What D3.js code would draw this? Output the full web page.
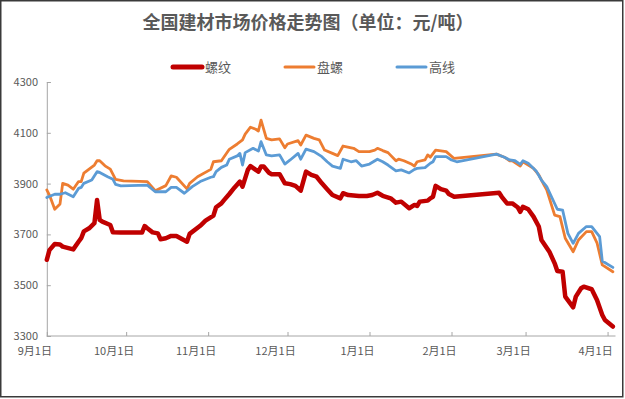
<!DOCTYPE html>
<html lang="zh">
<head>
<meta charset="UTF-8">
<title>全国建材市场价格走势图</title>
<style>
    body { margin: 0; background: #fff; }
    text { font-family: "Noto Sans CJK SC", "Noto Sans", sans-serif; }
</style>
</head>
<body>
<div id="chart"></div>
<script src="https://cdn.jsdelivr.net/npm/d3@7/dist/d3.min.js"></script>
<script>
    // series names, in legend order
    var seriesNames = ["螺纹", "盘螺", "高线"];

    // 螺纹
    var rebarDates = ["9/1","9/2","9/4","9/6","9/7","9/11","9/13","9/14","9/15","9/17","9/19","9/20","9/21","9/22","9/25","9/26","9/29",
        "10/7","10/8","10/9","10/11","10/13","10/14","10/16","10/18","10/20","10/24","10/25","10/29","10/31",
        "11/3","11/4","11/6","11/7","11/9","11/11","11/13","11/14","11/16","11/17","11/19","11/20","11/21","11/22","11/24","11/25","11/28","11/30",
        "12/2","12/4","12/6","12/8","12/10","12/12","12/14","12/16","12/18","12/21","12/22","12/24","12/28","12/31",
        "1/2","1/4","1/6","1/9","1/11","1/13","1/16","1/18","1/19","1/20","1/23","1/24","1/25","1/26","1/28","1/30","1/31",
        "2/2","2/19","2/20","2/22","2/24","2/26","2/27","2/28",
        "3/2","3/4","3/6","3/7","3/10","3/12","3/13","3/15","3/16","3/19","3/20","3/22","3/23","3/26","3/28","3/30","3/31","4/3"];
    var rebarValues = [3600,3638,3662,3660,3652,3641,3671,3685,3712,3724,3744,3835,3757,3750,3737,3708,3707,
        3707,3733,3724,3708,3704,3681,3685,3694,3694,3671,3702,3734,3754,
        3774,3807,3822,3835,3859,3885,3908,3888,3954,3969,3954,3947,3967,3967,3943,3937,3937,3901,
        3898,3891,3872,3947,3934,3927,3901,3878,3855,3842,3862,3855,3851,3851,
        3855,3864,3852,3842,3825,3829,3803,3816,3812,3829,3833,3842,3848,3891,3878,3872,3859,
        3848,3864,3848,3822,3822,3807,3789,3809,
        3799,3770,3731,3678,3632,3586,3556,3553,3455,3413,3455,3488,3494,3484,3442,3383,3363,3337];

    // 盘螺
    var coilDates = ["9/1","9/2","9/4","9/6","9/7","9/9","9/11","9/13","9/14","9/15","9/17","9/19","9/20","9/21","9/23","9/25","9/27","9/30",
        "10/9","10/12","10/16","10/18","10/20","10/24","10/25","10/28",
        "11/2","11/3","11/6","11/9","11/12","11/14","11/15","11/17","11/19","11/20","11/21","11/23","11/25","11/28","11/30",
        "12/1","12/5","12/6","12/8","12/11","12/13","12/15","12/18","12/20","12/22","12/26","12/28",
        "1/1","1/3","1/4","1/6","1/8","1/11","1/12","1/14","1/17","1/18","1/19","1/22","1/23","1/24","1/26","1/30",
        "2/2","2/18","2/21","2/23","2/24","2/27","2/28",
        "3/2","3/4","3/6","3/8","3/9","3/12","3/14","3/16","3/19","3/21","3/24","3/26","3/28","3/30","4/3"];
    var coilValues = [3875,3855,3799,3820,3901,3894,3878,3908,3908,3941,3957,3973,3990,3990,3970,3957,3917,3911,
        3908,3872,3892,3930,3925,3879,3901,3927,
        3956,3986,3990,4035,4056,4072,4095,4122,4114,4107,4150,4078,4072,4076,4041,
        4056,4069,4052,4091,4078,4072,4032,4019,4010,4048,4039,4026,
        4026,4032,4039,4030,4022,3990,3996,3990,3976,3969,3986,3993,4013,4004,4032,4026,
        3999,4016,4004,3990,3990,3969,3986,
        3973,3960,3934,3894,3875,3776,3770,3685,3632,3678,3711,3711,3667,3580,3553];

    // 高线
    var wireDates = ["9/1","9/4","9/6","9/8","9/11","9/13","9/14","9/15","9/18","9/20","9/21","9/24","9/26","9/27","9/29",
        "10/9","10/12","10/16","10/18","10/20","10/23","10/26","10/29",
        "11/2","11/3","11/4","11/6","11/8","11/9","11/12","11/13","11/14","11/15","11/18","11/20","11/21","11/23","11/25","11/28","11/30",
        "12/2","12/5","12/6","12/8","12/11","12/14","12/16","12/18","12/21","12/22","12/25","12/27","12/29",
        "1/1","1/4","1/6","1/8","1/11","1/13","1/16","1/18","1/19","1/22","1/24","1/25","1/26","1/30",
        "2/1","2/3","2/18","2/21","2/23","2/25","2/27","2/28",
        "3/2","3/5","3/7","3/9","3/13","3/15","3/17","3/19","3/21","3/24","3/26","3/29","3/30","4/3"];
    var wireValues = [3845,3858,3858,3864,3848,3881,3885,3901,3914,3947,3944,3927,3917,3897,3891,
        3894,3868,3868,3885,3885,3862,3888,3908,
        3925,3927,3947,3964,3973,3996,4009,4019,3973,4022,4039,4028,4065,4013,4009,4013,3977,
        3993,4019,3996,4036,4026,4006,3986,3969,3960,3996,3986,3990,3969,
        3977,3996,3986,3973,3950,3954,3942,3956,3960,3963,3980,3986,4006,4006,
        3993,3986,4016,4004,3993,3990,3976,3990,
        3980,3950,3914,3888,3799,3796,3704,3665,3704,3731,3731,3691,3595,3570];

    var tickDates = ["9/1","10/1","11/1","12/1","1/1","2/1","3/1","4/1"];
    var tickLabels = ["9月1日","10月1日","11月1日","12月1日","1月1日","2月1日","3月1日","4月1日"];
    var yTicks = [3300, 3500, 3700, 3900, 4100, 4300];

    var colors = ["#c00000", "#ed7d31", "#5b9bd5"];
    var widths = [4.5, 2.8, 2.8];

    function parseDay(s) {
        var p = s.split("/"), m = +p[0], d = +p[1];
        return new Date(m >= 9 ? 2018 : 2019, m - 1, d);
    }

    var width = 625, height = 399;
    var margin = {left: 46.8, right: 9.5, top: 82, bottom: 63};

    var svg = d3.select("#chart").append("svg")
        .attr("width", width)
        .attr("height", height);

    svg.append("rect")
        .attr("x", 0.75).attr("y", 0.75)
        .attr("width", 622).attr("height", 396)
        .attr("fill", "#fff")
        .attr("stroke", "#3a3a3a")
        .attr("stroke-width", 1.5);

    var x = d3.scaleTime()
        .domain([parseDay("9/1"), parseDay("4/4")])
        .range([margin.left, width - margin.right]);

    var y = d3.scaleLinear()
        .domain([3300, 4300])
        .range([height - margin.bottom, margin.top]);

    // title
    svg.append("text")
        .attr("x", 308).attr("y", 29)
        .attr("text-anchor", "middle")
        .attr("font-size", 18)
        .attr("font-weight", "bold")
        .attr("fill", "#595959")
        .text("全国建材市场价格走势图（单位：元/吨）");

    // axes
    var axisColor = "#a6a6a6";

    var yAxis = svg.append("g")
        .attr("transform", "translate(" + margin.left + ",0)")
        .call(d3.axisRight(y).tickValues(yTicks).tickSize(4).tickFormat(""));
    yAxis.select(".domain").attr("stroke", axisColor);
    yAxis.selectAll(".tick line").attr("stroke", axisColor);

    svg.append("g").selectAll("text")
        .data(yTicks)
        .enter().append("text")
        .attr("x", 38)
        .attr("y", function(d) { return y(d) + 4; })
        .attr("text-anchor", "end")
        .attr("font-size", 11)
        .attr("fill", "#595959")
        .text(function(d) { return d; });

    var xAxis = svg.append("g")
        .attr("transform", "translate(0," + y(3300) + ")")
        .call(d3.axisTop(x).tickValues(tickDates.map(parseDay)).tickSize(4).tickFormat(""));
    xAxis.select(".domain").attr("stroke", axisColor).attr("d", "M" + margin.left + ",0H" + (width - margin.right));
    xAxis.selectAll(".tick line").attr("stroke", axisColor);

    svg.append("g").selectAll("text")
        .data(tickDates)
        .enter().append("text")
        .attr("x", function(d) { return Math.min(x(parseDay(d)) - 12, 596); })
        .attr("y", y(3300) + 19)
        .attr("text-anchor", "middle")
        .attr("font-size", 11)
        .attr("fill", "#595959")
        .text(function(d, i) { return tickLabels[i]; });

    // lines
    var series = [
        {dates: rebarDates, values: rebarValues},
        {dates: coilDates, values: coilValues},
        {dates: wireDates, values: wireValues}
    ];

    var line = d3.line()
        .x(function(d) { return x(d[0]); })
        .y(function(d) { return y(d[1]); });

    svg.append("g").selectAll("path")
        .data(series)
        .enter().append("path")
        .attr("fill", "none")
        .attr("stroke", function(d, i) { return colors[i]; })
        .attr("stroke-width", function(d, i) { return widths[i]; })
        .attr("stroke-linejoin", "round")
        .attr("stroke-linecap", "round")
        .attr("d", function(s) {
            return line(s.dates.map(function(dt, j) { return [parseDay(dt), s.values[j]]; }));
        });

    // legend
    var legendX = [173, 285, 397];
    var legend = svg.append("g").selectAll("g")
        .data(seriesNames)
        .enter().append("g")
        .attr("transform", function(d, i) { return "translate(" + legendX[i] + ",67)"; });

    legend.append("line")
        .attr("x1", 0).attr("x2", 29)
        .attr("stroke", function(d, i) { return colors[i]; })
        .attr("stroke-width", function(d, i) { return i === 0 ? 5 : 3; })
        .attr("stroke-linecap", "round");

    legend.append("text")
        .attr("x", 32).attr("y", 5)
        .attr("font-size", 13)
        .attr("fill", "#595959")
        .text(function(d) { return d; });
</script>
</body>
</html>
